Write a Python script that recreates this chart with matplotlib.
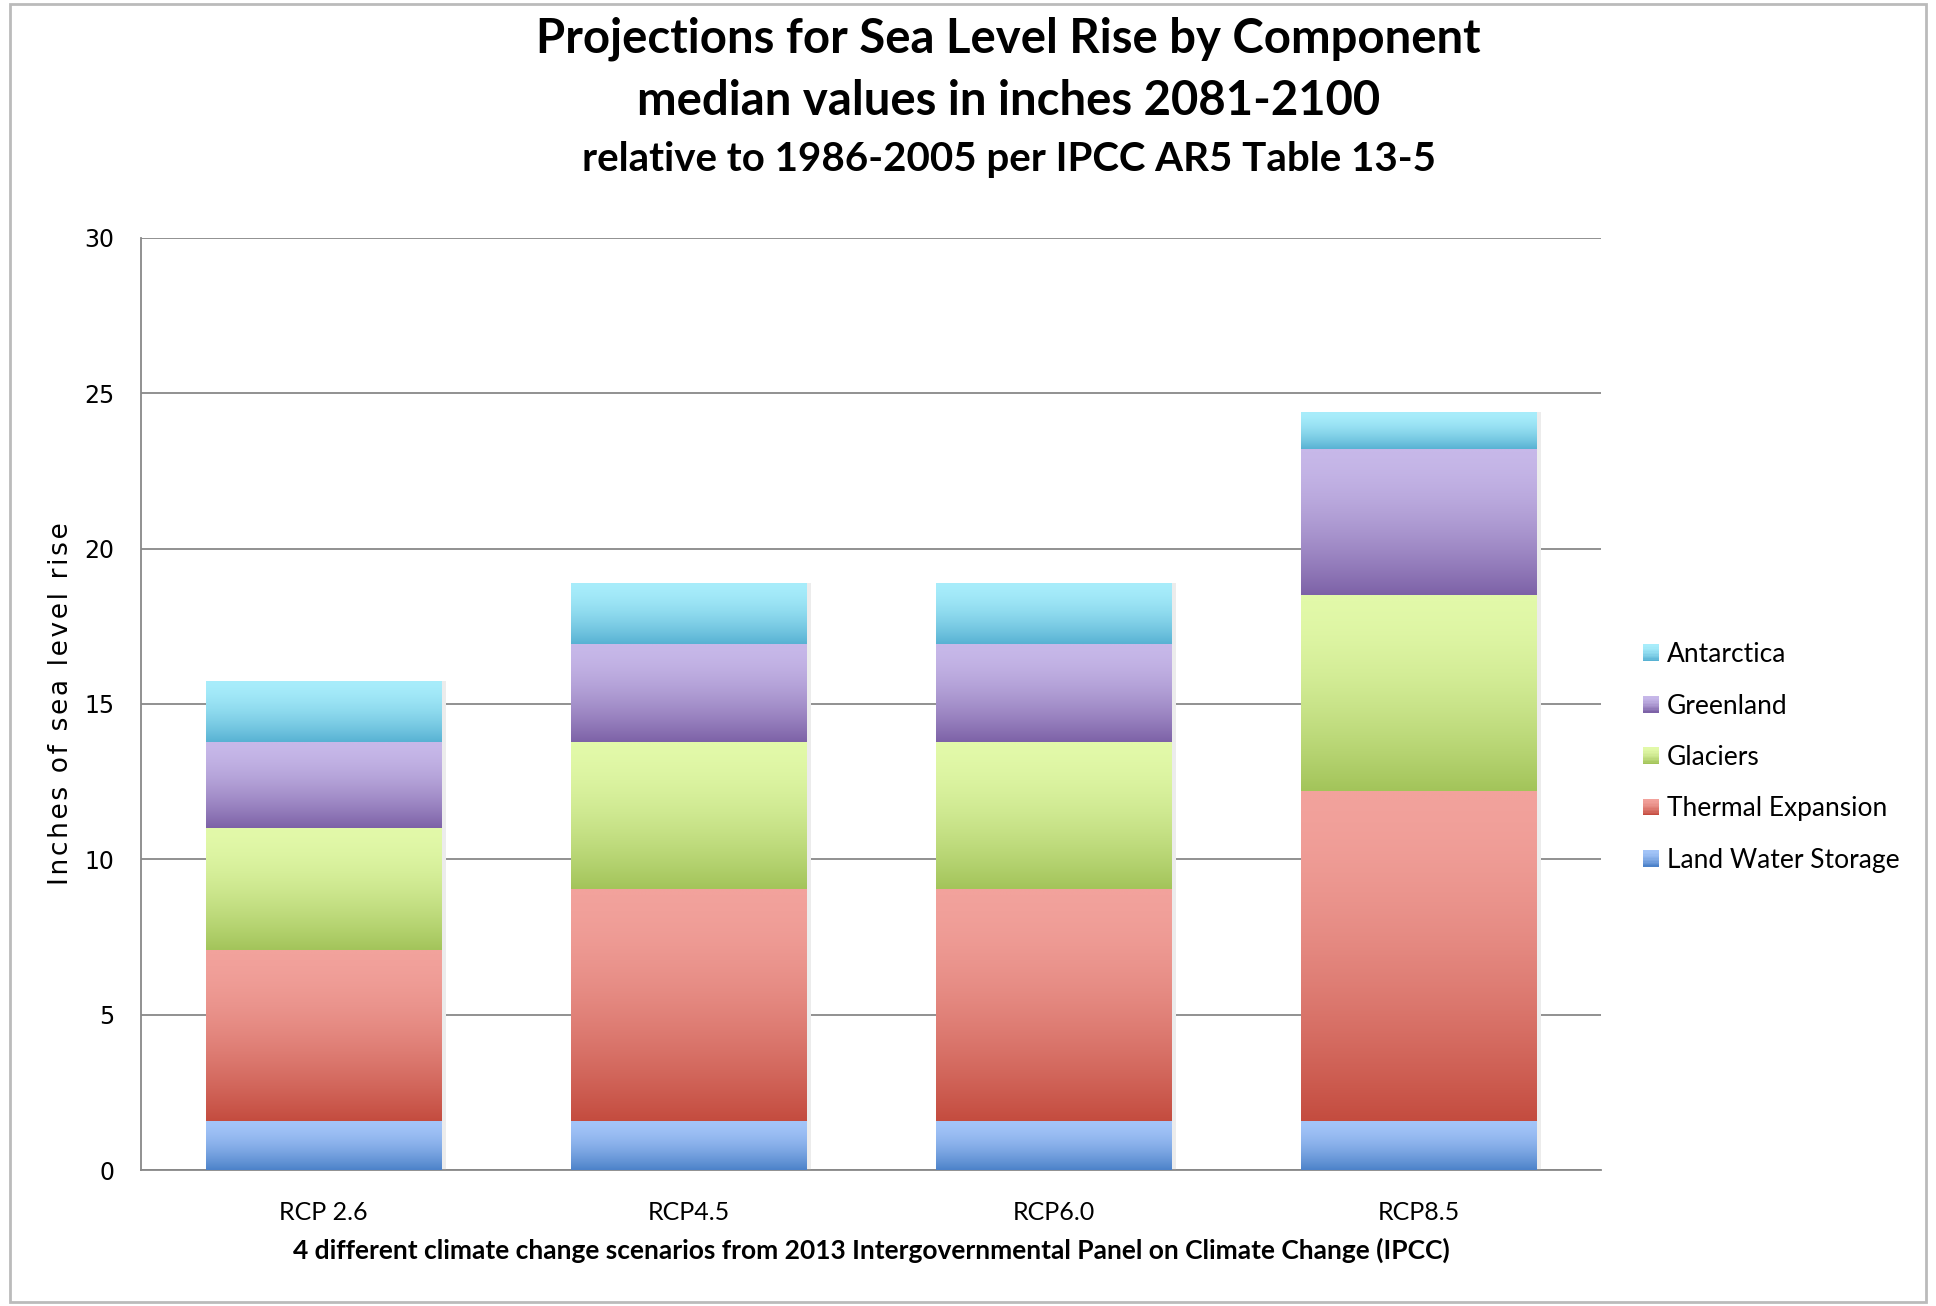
import numpy as np
import matplotlib.pyplot as plt
from matplotlib.colors import LinearSegmentedColormap, to_rgb
from matplotlib.patches import Patch, Rectangle
from matplotlib.legend_handler import HandlerBase

# Data (inches, median 2081-2100, IPCC AR5 Table 13-5)
scenarios = ['RCP 2.6', 'RCP4.5', 'RCP6.0', 'RCP8.5']
components = ['Land Water Storage', 'Thermal Expansion', 'Glaciers', 'Greenland', 'Antarctica']
land_water = [1.57, 1.57, 1.57, 1.57]
thermal = [5.51, 7.48, 7.48, 10.63]
glaciers = [3.94, 4.72, 4.72, 6.30]
greenland = [2.76, 3.15, 3.15, 4.72]
antarctica = [1.97, 1.97, 1.97, 1.18]
series = [land_water, thermal, glaciers, greenland, antarctica]

# gradient colours: (top, bottom)
grad_colors = [
    ('#a3c4f8', '#4c82c9'),
    ('#f2a29c', '#c44c3f'),
    ('#e2f9a9', '#a3c45a'),
    ('#c7b8e9', '#7d62a7'),
    ('#a8edfb', '#58b2d3'),
]


class GradPatch(Patch):
    def __init__(self, top, bot, **kw):
        super().__init__(**kw)
        self.grad = (top, bot)


class GradHandler(HandlerBase):
    # legend key drawn as a small vertical gradient square
    def create_artists(self, legend, orig_handle, xdescent, ydescent, width, height, fontsize, trans):
        top, bot = np.array(to_rgb(orig_handle.grad[0])), np.array(to_rgb(orig_handle.grad[1]))
        n = 12
        arts = []
        for i in range(n):
            f = (i / (n - 1)) ** 1.6
            c = top * (1 - f) + bot * f
            y = -ydescent + height * (1 - (i + 1) / n)
            r = Rectangle((-xdescent, y), width, height / n + 0.05, facecolor=c, edgecolor='none',
                          transform=trans)
            arts.append(r)
        return arts


fig = plt.figure(figsize=(19.36, 13.06), dpi=100)
ax = fig.add_axes([0.0728, 0.1041, 0.7542, 0.7137])

x = np.arange(len(scenarios))
width = 0.646
bottom = np.zeros(len(scenarios))

t = np.linspace(0, 1, 256) ** 1.6
for vals, (top_c, bot_c) in zip(series, grad_colors):
    cmap = LinearSegmentedColormap.from_list('g', [top_c, bot_c])
    bars = ax.bar(x, vals, width, bottom=bottom, color='none', edgecolor='none', zorder=3)
    for p in bars:
        x0, y0, w, h = p.get_x(), p.get_y(), p.get_width(), p.get_height()
        # faint shadow on right side
        ax.add_patch(Rectangle((x0 + w, y0), 0.012, h, color='#ececec', zorder=2, lw=0))
        im = ax.imshow(t.reshape(-1, 1), cmap=cmap, aspect='auto',
                       extent=(x0, x0 + w, y0, y0 + h), origin='upper',
                       interpolation='bilinear', zorder=3)
        im.set_clip_path(p)
    bottom += np.array(vals)

ax.set_xlim(-0.5, len(scenarios) - 0.5)
ax.set_ylim(0, 30)
ax.set_yticks(range(0, 31, 5))
ax.yaxis.grid(True, color='#888888', linewidth=1.3, zorder=0)
ax.set_axisbelow(True)
for s in ['top', 'right']:
    ax.spines[s].set_visible(False)
ax.spines['left'].set_color('#888888')
ax.spines['bottom'].set_color('#888888')
ax.spines['left'].set_linewidth(1.3)
ax.spines['bottom'].set_linewidth(1.3)
ax.tick_params(axis='x', length=0, pad=22)
ax.tick_params(axis='y', length=0, pad=19)
ax.set_xticks(x)
ax.set_xticklabels(scenarios, fontsize=18, family='Lato')
for lbl in ax.get_yticklabels():
    lbl.set_fontsize(17)
    lbl.set_family('DejaVu Sans')

ylab = '\u200a'.join('Inches of sea level rise')
ax.set_ylabel(ylab, fontsize=19)
ax.yaxis.set_label_coords(-0.0549, 0.5)
ax.yaxis.label.set_va('center')
ax.set_xlabel('4 different climate change scenarios from 2013 Intergovernmental Panel on Climate Change (IPCC)',
              fontsize=19, family='Lato', fontweight='bold', labelpad=10)

fig.text(0.521, 0.970, 'Projections for Sea Level Rise by Component', ha='center', va='center',
         fontsize=34, family='Lato', fontweight='bold')
fig.text(0.521, 0.923, 'median values in inches 2081-2100', ha='center', va='center',
         fontsize=34, family='Lato', fontweight='bold')
fig.text(0.521, 0.878, 'relative to 1986-2005 per IPCC AR5 Table 13-5', ha='center', va='center',
         fontsize=29, family='Lato', fontweight='bold')

handles = [GradPatch(top_c, bot_c, label=name) for name, (top_c, bot_c) in zip(components, grad_colors)]
leg = fig.legend(handles[::-1], components[::-1], loc='center left', bbox_to_anchor=(0.8366, 0.42),
                 frameon=False, prop={'family': 'Lato', 'size': 19},
                 handler_map={GradPatch: GradHandler()},
                 handlelength=0.6, handleheight=0.6, handletextpad=0.3, labelspacing=1.0)

# outer chart frame
fig.patches.append(Rectangle((0.005, 0.003), 0.99, 0.994, transform=fig.transFigure,
                             fill=False, edgecolor='#bbbbbb', linewidth=2))

fig.savefig('out.png', dpi=100)
